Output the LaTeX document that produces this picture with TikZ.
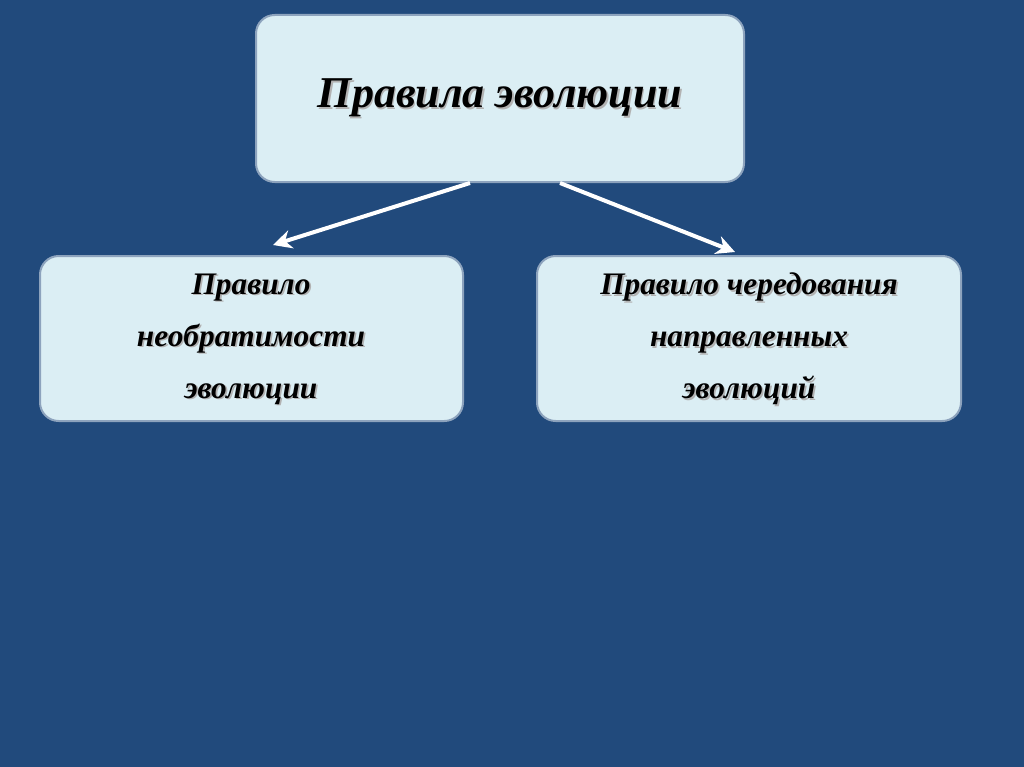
\documentclass[tikz,border=0pt]{standalone}
\usepackage{fontspec}
\setmainfont{Liberation Serif}
\usetikzlibrary{arrows.meta}
\definecolor{bg}{HTML}{214A7C}
\definecolor{boxfill}{HTML}{DBEEF4}
\definecolor{boxline}{HTML}{8DA3BD}
\tikzset{
  rbox/.style={draw=boxline, line width=1.5pt, fill=boxfill, rounded corners=14pt},
  txt/.style={align=center, font=\bfseries\itshape},
  arr/.style={draw=white, line width=3pt, -{Stealth[length=14pt,width=14pt]}}
}
\newcommand{\shadowtext}[3]{%
  \node[txt, text=black!35, font=\bfseries\itshape\fontsize{#2}{#3}\selectfont] at ([xshift=1.2pt,yshift=-1.2pt]#1) {\shadowcontent};
}
\begin{document}
\begin{tikzpicture}[x=0.75pt,y=-0.75pt]
\fill[bg] (0,0) rectangle (1024,767);
\useasboundingbox (0,0) rectangle (1024,767);
\draw[rbox] (256,15) rectangle (744,182);
\draw[rbox] (40,256) rectangle (463,421);
\draw[rbox] (537,256) rectangle (961,421);
\coordinate (tc) at (500,98);
\coordinate (lc) at (251,339);
\coordinate (rc) at (749,339);
\foreach \dx/\dy/\c in {1.3/-1.3/black!30, 0/0/black}{
\node[txt, text=\c, font=\bfseries\itshape\fontsize{33}{38}\selectfont] (top) at ([xshift=\dx pt,yshift=\dy pt]tc) {Правила эволюции};
\node[txt, text=\c, font=\bfseries\itshape\fontsize{23.5}{39}\selectfont] (left) at ([xshift=\dx pt,yshift=\dy pt]lc) {Правило\\необратимости\\эволюции};
\node[txt, text=\c, font=\bfseries\itshape\fontsize{23.5}{39}\selectfont] (right) at ([xshift=\dx pt,yshift=\dy pt]rc) {Правило чередования\\направленных\\эволюций};
}
\coordinate (a1s) at (470,183);
\coordinate (a1e) at (273,245);
\coordinate (a2s) at (560,183);
\coordinate (a2e) at (735,252);
\draw[arr] (a1s) -- (a1e);
\draw[arr] (a2s) -- (a2e);
\end{tikzpicture}
\end{document}
